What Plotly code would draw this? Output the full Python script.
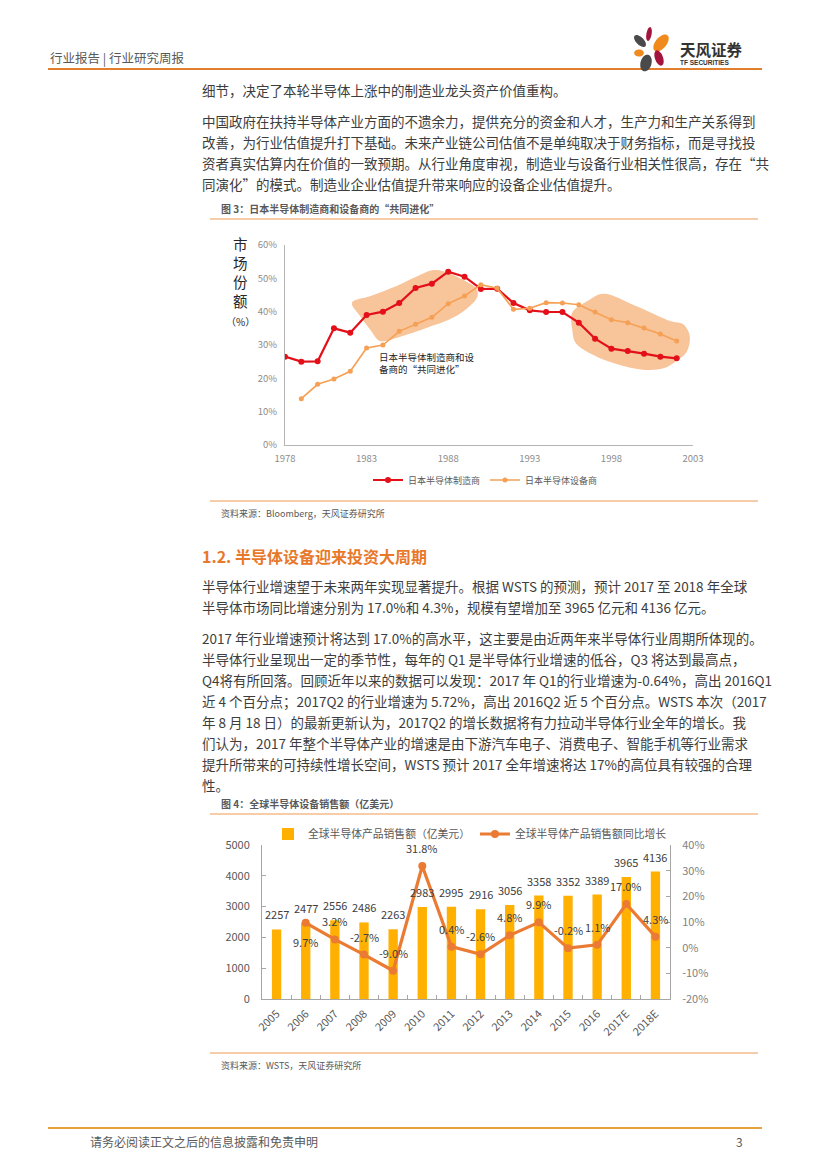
import plotly.graph_objects as go
import numpy as np

W, H = 827, 1169


def px(x):
    return x / W


def py(y):
    return 1 - y / H


FONT = "Noto Sans CJK SC, Noto Sans, sans-serif"

# ---------------- Chart 1 data ----------------
years_mfr = list(range(1978, 2003))
share_mfr = [26.5, 25.0, 25.1, 35.0, 33.7, 39.0, 40.0, 42.6, 47.1, 48.4, 52.0, 50.5, 46.8,
             46.9, 42.6, 40.4, 39.9, 39.9, 36.7, 31.9, 28.9, 28.2, 27.4, 26.5, 26.0]
years_eqp = list(range(1979, 2003))
share_eqp = [13.9, 18.2, 19.8, 22.1, 29.1, 30.0, 34.1, 36.2, 38.3, 42.4, 44.7, 48.1,
             47.0, 40.7, 41.0, 42.7, 42.6, 42.1, 39.9, 37.6, 36.7, 35.1, 33.3, 31.2]
x_ticks_1 = [1978, 1983, 1988, 1993, 1998, 2003]
y_ticks_1 = [0, 10, 20, 30, 40, 50, 60]
name_mfr = "日本半导体制造商"
name_eqp = "日本半导体设备商"

# highlighted "co-evolution" regions (year, %)
blob1_x = [1982.1, 1983.2, 1984.8, 1986.1, 1987.0, 1987.7, 1988.9, 1989.7, 1989.8, 1989.1,
           1988.1, 1986.7, 1985.2, 1984.4, 1983.8, 1983.2, 1982.6, 1982.1]
blob1_y = [42.7, 44.6, 47.6, 50.6, 52.4, 52.1, 49.6, 47.1, 44.6, 40.7,
           37.7, 35.2, 32.7, 31.5, 31.2, 34.7, 38.7, 42.7]
blob2_x = [1995.6, 1996.5, 1997.5, 1999.5, 2001.6, 2002.4, 2002.8, 2002.6, 2002.0, 2001.2,
           1999.9, 1998.3, 1996.9, 1995.8, 1995.6, 1995.6]
blob2_y = [39.7, 43.1, 45.4, 41.7, 37.2, 36.2, 32.7, 27.8, 25.3, 23.0,
           22.6, 24.3, 27.0, 30.7, 34.7, 39.7]

# ---------------- Chart 2 data ----------------
categories = ["2005", "2006", "2007", "2008", "2009", "2010", "2011", "2012", "2013",
              "2014", "2015", "2016", "2017E", "2018E"]
sales = [2257, 2477, 2556, 2486, 2263, 2983, 2995, 2916, 3056, 3358, 3352, 3389, 3965, 4136]
growth = [None, 9.7, 3.2, -2.7, -9.0, 31.8, 0.4, -2.6, 4.8, 9.9, -0.2, 1.1, 17.0, 4.3]
growth_label_below = ["2006"]
left_ticks_2 = [0, 1000, 2000, 3000, 4000, 5000]
right_ticks_2 = [-20, -10, 0, 10, 20, 30, 40]
name_sales = "全球半导体产品销售额（亿美元）"
name_growth = "全球半导体产品销售额同比增长"

# ---------------- page text ----------------
para1 = [
    "细节，决定了本轮半导体上涨中的制造业龙头资产价值重构。",
]
para2 = [
    "中国政府在扶持半导体产业方面的不遗余力，提供充分的资金和人才，生产力和生产关系得到",
    "改善，为行业估值提升打下基础。未来产业链公司估值不是单纯取决于财务指标，而是寻找投",
    "资者真实估算内在价值的一致预期。从行业角度审视，制造业与设备行业相关性很高，存在“共",
    "同演化”的模式。制造业企业估值提升带来响应的设备企业估值提升。",
]
heading = "1.2. 半导体设备迎来投资大周期"
para3 = [
    "半导体行业增速望于未来两年实现显著提升。根据 WSTS 的预测，预计 2017 至 2018 年全球",
    "半导体市场同比增速分别为 17.0%和 4.3%，规模有望增加至 3965 亿元和 4136 亿元。",
]
para4 = [
    "2017 年行业增速预计将达到 17.0%的高水平，这主要是由近两年来半导体行业周期所体现的。",
    "半导体行业呈现出一定的季节性，每年的 Q1 是半导体行业增速的低谷，Q3 将达到最高点，",
    "Q4将有所回落。回顾近年以来的数据可以发现：2017 年 Q1的行业增速为-0.64%，高出 2016Q1",
    "近 4 个百分点；2017Q2 的行业增速为 5.72%，高出 2016Q2 近 5 个百分点。WSTS 本次（2017",
    "年 8 月 18 日）的最新更新认为，2017Q2 的增长数据将有力拉动半导体行业全年的增长。我",
    "们认为，2017 年整个半导体产业的增速是由下游汽车电子、消费电子、智能手机等行业需求",
    "提升所带来的可持续性增长空间，WSTS 预计 2017 全年增速将达 17%的高位具有较强的合理",
    "性。",
]

ORANGE = "#E8782A"
BODY = "#3d3d3d"
GRAY = "#595959"

fig = go.Figure()

# ---- chart 1 traces ----
for bx, by in ((blob1_x, blob1_y), (blob2_x, blob2_y)):
    fig.add_trace(go.Scatter(x=bx, y=by, mode="lines", fill="toself",
                             line=dict(width=0, shape="spline", smoothing=1.0),
                             fillcolor="rgba(243,160,92,0.62)", showlegend=False,
                             hoverinfo="skip", xaxis="x", yaxis="y"))
fig.add_trace(go.Scatter(x=years_mfr, y=share_mfr, name=name_mfr, mode="lines+markers",
                         line=dict(color="#E3101A", width=2.2),
                         marker=dict(color="#E3101A", size=6), xaxis="x", yaxis="y",
                         legend="legend"))
fig.add_trace(go.Scatter(x=years_eqp, y=share_eqp, name=name_eqp, mode="lines+markers",
                         line=dict(color="#F5A055", width=1.6),
                         marker=dict(color="#F5A055", size=5), xaxis="x", yaxis="y",
                         legend="legend"))

# ---- chart 2 traces ----
fig.add_trace(go.Bar(x=categories, y=sales, name=name_sales, marker_color="#FFB000",
                     width=0.32, xaxis="x2", yaxis="y2", legend="legend2"))
fig.add_trace(go.Scatter(x=categories, y=growth, name=name_growth, mode="lines+markers",
                         line=dict(color="#EB7B33", width=3.2),
                         marker=dict(color="#EB7B33", size=8), xaxis="x2", yaxis="y3",
                         legend="legend2", connectgaps=False))

annotations = []
shapes = []


def text(x, y, s, size, color=BODY, anchor="left", family=FONT):
    annotations.append(dict(xref="paper", yref="paper", x=px(x), y=py(y), text=s,
                            showarrow=False, xanchor=anchor, yanchor="middle",
                            font=dict(size=size, color=color, family=family)))


def hline(x0, x1, y, color, width):
    shapes.append(dict(type="line", xref="paper", yref="paper", x0=px(x0), x1=px(x1),
                       y0=py(y), y1=py(y), line=dict(color=color, width=width)))


# header / footer
text(48, 57, "行业报告 | 行业研究周报", 12.5, GRAY)
hline(48, 762, 69, "#E27F2E", 2.2)
hline(48, 762, 1128, "#E6A03C", 2.2)
text(88, 1141, "请务必阅读正文之后的信息披露和免责申明", 12, GRAY)
text(745, 1141, "3", 12, GRAY, anchor="right")


# logo
def petal(cx, cy, rx, ry, ang, color):
    t = np.linspace(0, 2 * np.pi, 40)
    a = np.deg2rad(ang)
    xs = cx + rx * np.cos(t) * np.cos(a) - ry * np.sin(t) * np.sin(a)
    ys = cy + rx * np.cos(t) * np.sin(a) + ry * np.sin(t) * np.cos(a)
    pts = " L ".join(f"{px(x):.5f},{py(y):.5f}" for x, y in zip(xs, ys))
    shapes.append(dict(type="path", xref="paper", yref="paper", path="M " + pts + " Z",
                       fillcolor=color, line=dict(width=0)))


petal(649, 34, 2.6, 7, 10, "#A3153D")
petal(661, 43, 5.5, 10, 40, "#F08A1C")
petal(640, 41, 3.8, 7.5, -45, "#4A4A4A")
petal(639, 53, 4.8, 3.6, 0, "#F08A1C")
petal(659, 58, 4, 8, -20, "#A3153D")
petal(646, 63, 5.5, 8.5, 15, "#4A4A4A")
text(678, 49, "<b>天风证券</b>", 15.5, "#333333")
text(678, 63, "<b>TF SECURITIES</b>", 6.5, "#333333", family="Arial, Liberation Sans, sans-serif")

# body text
for i, s in enumerate(para1):
    text(200, 90 + 21 * i, s, 13.5, BODY)
for i, s in enumerate(para2):
    text(200, 121 + 21 * i, s, 13.5, BODY)
text(200, 556, "<b>" + heading + "</b>", 16, ORANGE)
for i, s in enumerate(para3):
    text(200, 586 + 21 * i, s, 13.5, BODY)
for i, s in enumerate(para4):
    text(200, 638 + 21 * i, s, 13.5, BODY)

# figure frames
text(219, 208, "<b>图 3：日本半导体制造商和设备商的“共同进化”</b>", 10, GRAY)
hline(210, 758, 219, "#EE9A55", 1.2)
hline(210, 758, 501, "#EE9A55", 1.2)
text(219, 513, "资料来源：Bloomberg，天风证券研究所", 9, GRAY)

text(219, 803, "<b>图 4：全球半导体设备销售额（亿美元）</b>", 10, GRAY)
hline(210, 758, 814, "#EE9A55", 1.2)
hline(210, 758, 1053, "#EE9A55", 1.2)
text(219, 1065, "资料来源：WSTS，天风证券研究所", 9, GRAY)

# chart 1 axis title and note
text(240, 272, "市<br>场<br>份<br>额", 14.5, "#262626", anchor="center")
text(240, 322, "（%）", 10, "#262626", anchor="center")
text(377, 357, "日本半导体制造商和设", 9.5, "#262626")
text(377, 369, "备商的“共同进化”", 9.5, "#262626")

# chart 2 value labels (category index positions)
for i, v in enumerate(sales):
    annotations.append(dict(x=i, y=v, xref="x2", yref="y2", text=str(v), showarrow=False,
                            yshift=15, font=dict(size=11, color="#404040", family=FONT)))
for i, (c, g) in enumerate(zip(categories, growth)):
    if g is None:
        continue
    shift = -19 if c in growth_label_below else 18
    annotations.append(dict(x=i, y=g, xref="x2", yref="y3", text=f"{g:.1f}%",
                            showarrow=False, yshift=shift,
                            font=dict(size=11, color="#404040", family=FONT)))

AX = "#B5B5B5"
TICKF = dict(size=9.5, color="#8c8c8c", family=FONT)
TICKF2 = dict(size=11, color=GRAY, family=FONT)

fig.update_layout(
    template="none",
    width=W, height=H, autosize=False,
    margin=dict(l=0, r=0, t=0, b=0, pad=0, autoexpand=False),
    paper_bgcolor="white", plot_bgcolor="rgba(0,0,0,0)",
    font=dict(family=FONT),
    showlegend=True,
    xaxis=dict(domain=[px(285), px(693)], anchor="y", range=[1978, 2003],
               tickvals=x_ticks_1, ticktext=[str(v) for v in x_ticks_1],
               showline=True, linecolor=AX, linewidth=1, automargin=False,
               ticklabelstandoff=5,
               showgrid=False, zeroline=False, ticks="", tickfont=TICKF),
    yaxis=dict(domain=[py(445), py(245)], anchor="x", range=[0, 60],
               tickvals=y_ticks_1, ticktext=[f"{v}%" for v in y_ticks_1],
               showline=True, linecolor=AX, automargin=False, ticklabelstandoff=5,
               linewidth=1, showgrid=False, zeroline=False, ticks="", tickfont=TICKF),
    xaxis2=dict(domain=[px(262), px(670)], anchor="y2", type="category",
                range=[-0.5, 13.5], showline=True, linecolor="#A6A6A6", linewidth=1,
                showgrid=False, zeroline=False, ticks="inside", ticklen=4,
                tickcolor="#A6A6A6", tickson="boundaries", tickangle=-45,
                automargin=False, ticklabelstandoff=3,
                tickfont=dict(size=11, color=GRAY, family=FONT)),
    yaxis2=dict(domain=[py(999), py(845)], anchor="x2", range=[0, 5000],
                tickvals=left_ticks_2, ticktext=[str(v) for v in left_ticks_2],
                showline=True, linecolor="#A6A6A6", linewidth=1, automargin=False,
                showgrid=False, zeroline=False, ticks="inside", ticklen=4,
                ticklabelstandoff=9,
                tickcolor="#A6A6A6", tickfont=TICKF2),
    yaxis3=dict(domain=[py(999), py(845)], anchor="x2", overlaying="y2", side="right",
                range=[-20, 40], tickvals=right_ticks_2,
                ticktext=[f"{v}%" for v in right_ticks_2], showline=True,
                linecolor="#A6A6A6", linewidth=1, showgrid=False, zeroline=False,
                ticks="inside", ticklen=4, tickcolor="#A6A6A6", automargin=False,
                ticklabelstandoff=9,
                tickfont=dict(size=11, color="#7f7f7f", family=FONT)),
    legend=dict(orientation="h", xref="container", yref="container",
                x=px(368), y=py(480), xanchor="left", yanchor="middle",
                bgcolor="rgba(0,0,0,0)", font=dict(size=9, color=GRAY, family=FONT),
                itemwidth=30, tracegroupgap=0),
    legend2=dict(orientation="h", xref="container", yref="container",
                 x=px(268), y=py(834), xanchor="left", yanchor="middle",
                 bgcolor="rgba(0,0,0,0)", font=dict(size=10.8, color=GRAY, family=FONT),
                 itemwidth=30),
    annotations=annotations,
    shapes=shapes,
    bargap=0.68,
)

fig.write_html("out.html", config={"displayModeBar": False},
               post_script="document.body.style.margin='0';")
